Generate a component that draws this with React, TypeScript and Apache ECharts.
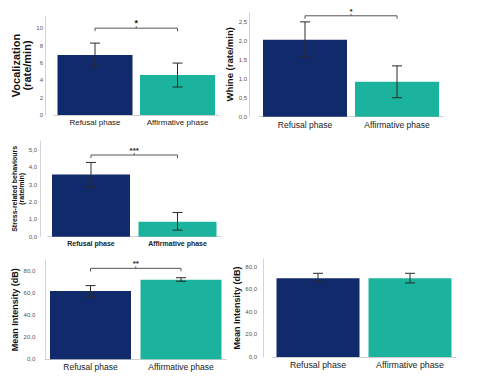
import React, { useEffect, useRef } from "react";
import * as echarts from "echarts";

const categories = ["Refusal phase", "Affirmative phase"];

const vocalMeans = [6.9, 4.6];
const vocalLow = [5.63, 3.22];
const vocalHigh = [8.28, 5.98];

const whineMeans = [2.03, 0.92];
const whineLow = [1.58, 0.5];
const whineHigh = [2.5, 1.34];

const stressMeans = [3.6, 0.87];
const stressLow = [2.85, 0.38];
const stressHigh = [4.29, 1.4];

const intensityAMeans = [62.0, 72.4];
const intensityALow = [56.6, 71.0];
const intensityAHigh = [67.0, 74.2];

const intensityBMeans = [70.0, 70.0];
const intensityBLow = [67.0, 65.8];
const intensityBHigh = [74.4, 74.4];

// significance brackets: [from category, to category, y value], stars
const vocalBracket = [0, 1, 10.0];
const whineBracket = [0, 1, 2.66];
const stressBracket = [0, 0.88, 4.72];
const intensityABracket = [0, 1, 82.7];
const vocalStars = "*";
const whineStars = "*";
const stressStars = "***";
const intensityAStars = "**";

const NAVY = "#112a6c";
const TEAL = "#1bb39d";
const FONT = "Liberation Sans, Arial, sans-serif";

type Panel = {
  means: number[];
  low: number[];
  high: number[];
  grid: { left: number; top: number; width: number; height: number };
  offset: number;
  max: number;
  interval: number;
  decimals: number;
  name: string;
  nameGap: number;
  nameSize: number;
  nameLineHeight?: number;
  barWidth: number;
  catSize: number;
  catBold: boolean;
  catMargin: number;
  tickMargin: number;
  bracket?: number[];
  stars?: string;
  starSize?: number;
};

const panels: Panel[] = [
  {
    means: vocalMeans, low: vocalLow, high: vocalHigh,
    grid: { left: 53.75, top: 16, width: 165, height: 99 },
    offset: 8.75, max: 11.4, interval: 2, decimals: 0,
    name: "Vocalization\n(rate/min)", nameGap: 11, nameSize: 11, nameLineHeight: 11,
    barWidth: 75, catSize: 8, catBold: false, catMargin: 3, tickMargin: 2,
    bracket: vocalBracket, stars: vocalStars, starSize: 9,
  },
  {
    means: whineMeans, low: whineLow, high: whineHigh,
    grid: { left: 259, top: 12, width: 184, height: 104.7 },
    offset: 10, max: 2.76, interval: 0.5, decimals: 1,
    name: "Whine (rate/min)", nameGap: 13, nameSize: 9.5,
    barWidth: 84, catSize: 8.5, catBold: false, catMargin: 4, tickMargin: 2,
    bracket: whineBracket, stars: whineStars, starSize: 7,
  },
  {
    means: stressMeans, low: stressLow, high: stressHigh,
    grid: { left: 47.75, top: 141, width: 173, height: 95.7 },
    offset: 7.75, max: 5.53, interval: 1, decimals: 1,
    name: "Stress-related behaviours\n(rate/min)", nameGap: 15, nameSize: 7, nameLineHeight: 7,
    barWidth: 78, catSize: 7, catBold: true, catMargin: 3, tickMargin: 3,
    bracket: stressBracket, stars: stressStars, starSize: 8,
  },
  {
    means: intensityAMeans, low: intensityALow, high: intensityAHigh,
    grid: { left: 45.25, top: 260, width: 181, height: 99.3 },
    offset: 0, max: 90.3, interval: 20, decimals: 1,
    name: "Mean Intensity (dB)", nameGap: 25, nameSize: 9,
    barWidth: 81, catSize: 8.5, catBold: false, catMargin: 3, tickMargin: 10,
    bracket: intensityABracket, stars: intensityAStars, starSize: 8,
  },
  {
    means: intensityBMeans, low: intensityBLow, high: intensityBHigh,
    grid: { left: 272, top: 259, width: 184, height: 98 },
    offset: 9, max: 87.1, interval: 20, decimals: 1,
    name: "Mean Intensity (dB)", nameGap: 15, nameSize: 9,
    barWidth: 83, catSize: 8.8, catBold: false, catMargin: 3, tickMargin: 6,
  },
];

function buildOption() {
  const grid: any[] = [];
  const xAxis: any[] = [];
  const yAxis: any[] = [];
  const series: any[] = [];

  panels.forEach((p, i) => {
    grid.push({ ...p.grid, containLabel: false });
    xAxis.push({
      type: "category",
      gridIndex: i,
      data: categories,
      axisLine: { show: true, lineStyle: { color: "#cfcfcf", width: 1 } },
      axisTick: { show: false },
      axisLabel: {
        color: "#222",
        fontSize: p.catSize,
        fontFamily: FONT,
        fontWeight: p.catBold ? "bold" : "normal",
        margin: p.catMargin,
        interval: 0,
      },
    });
    yAxis.push({
      type: "value",
      gridIndex: i,
      min: 0,
      max: p.max,
      interval: p.interval,
      offset: p.offset,
      name: p.name,
      nameLocation: "middle",
      nameGap: p.nameGap,
      nameTextStyle: {
        fontSize: p.nameSize,
        fontWeight: "bold",
        fontFamily: FONT,
        color: "#111",
        lineHeight: p.nameLineHeight,
      },
      axisLine: { show: true, lineStyle: { color: "#d4d4d4", width: 1 } },
      axisTick: { show: false },
      splitLine: { show: false },
      axisLabel: {
        showMaxLabel: false,
        fontSize: 6,
        fontFamily: FONT,
        color: "#555",
        margin: p.tickMargin,
        formatter: (v: number) => v.toFixed(p.decimals).replace(".", ","),
      },
    });
    series.push({
      type: "bar",
      xAxisIndex: i,
      yAxisIndex: i,
      barWidth: p.barWidth,
      data: p.means.map((m, k) => ({
        value: m,
        itemStyle: { color: k === 0 ? NAVY : TEAL },
      })),
    });
    series.push({
      type: "custom",
      xAxisIndex: i,
      yAxisIndex: i,
      data: p.means.map((_, k) => [k, p.low[k], p.high[k]]),
      encode: { x: 0, y: [1, 2] },
      renderItem: (_params: any, api: any) => {
        const x = api.value(0);
        const lo = api.coord([x, api.value(1)]);
        const hi = api.coord([x, api.value(2)]);
        const cap = 5;
        const st = { stroke: "#2a2a2a", lineWidth: 1 };
        return {
          type: "group",
          children: [
            { type: "line", shape: { x1: lo[0], y1: lo[1], x2: hi[0], y2: hi[1] }, style: st },
            { type: "line", shape: { x1: hi[0] - cap, y1: hi[1], x2: hi[0] + cap, y2: hi[1] }, style: st },
            { type: "line", shape: { x1: lo[0] - cap, y1: lo[1], x2: lo[0] + cap, y2: lo[1] }, style: st },
          ],
        };
      },
      z: 5,
    });
    if (p.bracket) {
      const stars = p.stars || "*";
      const starSize = p.starSize || 8;
      series.push({
        type: "custom",
        xAxisIndex: i,
        yAxisIndex: i,
        data: [p.bracket],
        encode: { x: [0, 1], y: 2 },
        renderItem: (_params: any, api: any) => {
          const a = api.coord([api.value(0), api.value(2)]);
          const b = api.coord([api.value(1), api.value(2)]);
          const mid = (a[0] + b[0]) / 2;
          const st = { stroke: "#555", lineWidth: 1 };
          return {
            type: "group",
            children: [
              { type: "line", shape: { x1: a[0], y1: a[1], x2: b[0], y2: b[1] }, style: st },
              { type: "line", shape: { x1: a[0], y1: a[1], x2: a[0], y2: a[1] + 3 }, style: st },
              { type: "line", shape: { x1: b[0], y1: b[1], x2: b[0], y2: b[1] + 3 }, style: st },
              { type: "line", shape: { x1: mid, y1: a[1], x2: mid, y2: a[1] - 2 }, style: st },
              {
                type: "text",
                x: mid,
                y: a[1] - 1,
                style: {
                  text: stars,
                  fill: "#222",
                  fontSize: starSize,
                  fontWeight: "bold",
                  fontFamily: FONT,
                  align: "center",
                  verticalAlign: "bottom",
                },
              },
            ],
          };
        },
        z: 6,
      });
    }
  });

  return {
    animation: false,
    backgroundColor: "#ffffff",
    grid,
    xAxis,
    yAxis,
    series,
  };
}

export default function App() {
  const ref = useRef<HTMLDivElement>(null);
  useEffect(() => {
    if (!ref.current) return;
    const chart = echarts.init(ref.current, undefined, { renderer: "svg" });
    chart.setOption(buildOption() as any);
    return () => chart.dispose();
  }, []);
  return (
    <div
      ref={ref}
      style={{ position: "absolute", left: 0, top: 0, width: 483, height: 382 }}
    />
  );
}
